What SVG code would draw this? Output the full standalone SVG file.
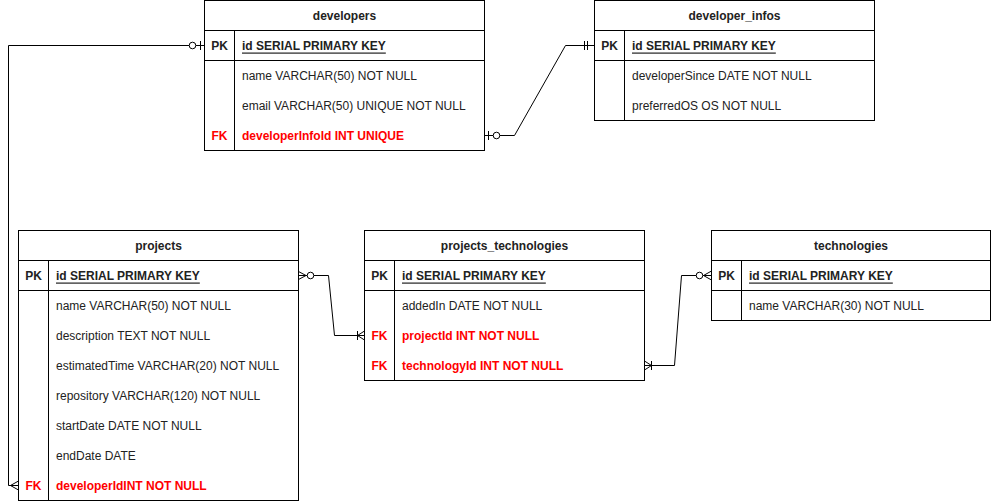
<svg xmlns="http://www.w3.org/2000/svg" width="992" height="502" viewBox="0 0 992 502">
<style>
.tb{fill:#fff;stroke:#000;stroke-width:1}
.ln{stroke:#000;stroke-width:1;fill:none}
text{font-family:"Liberation Sans",Arial,sans-serif;font-size:12px;fill:#222;dominant-baseline:central}
.h{font-weight:bold;text-anchor:middle}
.k{font-weight:bold;text-anchor:middle}
.pk{font-weight:bold;text-decoration:underline}
.fk{font-weight:bold;fill:#ff0000}
.fkk{font-weight:bold;text-anchor:middle;fill:#ff0000}
.cn{stroke:#000;stroke-width:1;fill:none}
.ci{stroke:#000;stroke-width:1;fill:#fff}
</style>
<g id="connectors">
  <!-- developers.id -> projects.developerId -->
  <g id="c1">
    <path class="cn" d="M204.5,45.5 H8.5 V485.5 H18.5"/>
    <path class="cn" d="M200.5,41 V50"/>
    <circle class="ci" cx="192.5" cy="45.5" r="3.3"/>
    <path class="cn" d="M18.5,481 L10.5,485.5 L18.5,490"/>
  </g>
  <!-- developers.developerInfoId -> developer_infos.id -->
  <g id="c2">
    <path class="cn" d="M484.5,135.5 H514.5 L565.5,45.5 H594.5"/>
    <path class="cn" d="M488.5,131 V140"/>
    <circle class="ci" cx="496.5" cy="135.5" r="3.3"/>
    <path class="cn" d="M584.5,41 V50 M587.5,41 V50"/>
  </g>
  <!-- projects.id -> projects_technologies.projectId -->
  <g id="c3">
    <path class="cn" d="M298.5,275.5 H328.5 L334.5,335.5 H364.5"/>
    <path class="cn" d="M298.5,271.5 L306,275.5 L298.5,279.5"/>
    <circle class="ci" cx="310.5" cy="275.5" r="3.3"/>
    <path class="cn" d="M357.5,331 V340"/>
    <path class="cn" d="M364.5,331 L357.5,335.5 L364.5,340"/>
  </g>
  <!-- projects_technologies.technologyId -> technologies.id -->
  <g id="c4">
    <path class="cn" d="M644.5,365.5 H674.5 L681.5,275.5 H711.5"/>
    <path class="cn" d="M644.5,361 L651.5,365.5 L644.5,370"/>
    <path class="cn" d="M651.5,361 V370"/>
    <circle class="ci" cx="699.5" cy="275.5" r="3.3"/>
    <path class="cn" d="M711.5,271 L703.5,275.5 L711.5,280"/>
  </g>
</g>

<g id="developers">
  <rect class="tb" x="204.5" y="0.5" width="280" height="150"/>
  <path class="ln" d="M204.5,30.5 H484.5 M204.5,60.5 H484.5 M234.5,30.5 V150.5"/>
  <text class="h" x="344.5" y="15.5">developers</text>
  <text class="k" x="219.5" y="45.5">PK</text>
  <text class="pk" x="242" y="45.5">id SERIAL PRIMARY KEY</text>
  <text x="242" y="75.5">name VARCHAR(50) NOT NULL</text>
  <text x="242" y="105.5">email VARCHAR(50) UNIQUE NOT NULL</text>
  <text class="fkk" x="219.5" y="135.5">FK</text>
  <text class="fk" x="242" y="135.5">developerInfoId INT UNIQUE</text>
</g>

<g id="developer_infos">
  <rect class="tb" x="594.5" y="0.5" width="280" height="120"/>
  <path class="ln" d="M594.5,30.5 H874.5 M594.5,60.5 H874.5 M624.5,30.5 V120.5"/>
  <text class="h" x="734.5" y="15.5">developer_infos</text>
  <text class="k" x="609.5" y="45.5">PK</text>
  <text class="pk" x="632" y="45.5">id SERIAL PRIMARY KEY</text>
  <text x="632" y="75.5">developerSince DATE NOT NULL</text>
  <text x="632" y="105.5">preferredOS OS NOT NULL</text>
</g>

<g id="projects">
  <rect class="tb" x="18.5" y="230.5" width="280" height="270"/>
  <path class="ln" d="M18.5,260.5 H298.5 M18.5,290.5 H298.5 M48.5,260.5 V500.5"/>
  <text class="h" x="158.5" y="245.5">projects</text>
  <text class="k" x="33.5" y="275.5">PK</text>
  <text class="pk" x="56" y="275.5">id SERIAL PRIMARY KEY</text>
  <text x="56" y="305.5">name VARCHAR(50) NOT NULL</text>
  <text x="56" y="335.5">description TEXT NOT NULL</text>
  <text x="56" y="365.5">estimatedTime VARCHAR(20) NOT NULL</text>
  <text x="56" y="395.5">repository VARCHAR(120) NOT NULL</text>
  <text x="56" y="425.5">startDate DATE NOT NULL</text>
  <text x="56" y="455.5">endDate DATE</text>
  <text class="fkk" x="33.5" y="485.5">FK</text>
  <text class="fk" x="56" y="485.5">developerIdINT NOT NULL</text>
</g>

<g id="projects_technologies">
  <rect class="tb" x="364.5" y="230.5" width="280" height="150"/>
  <path class="ln" d="M364.5,260.5 H644.5 M364.5,290.5 H644.5 M394.5,260.5 V380.5"/>
  <text class="h" x="504.5" y="245.5">projects_technologies</text>
  <text class="k" x="379.5" y="275.5">PK</text>
  <text class="pk" x="402" y="275.5">id SERIAL PRIMARY KEY</text>
  <text x="402" y="305.5">addedIn DATE NOT NULL</text>
  <text class="fkk" x="379.5" y="335.5">FK</text>
  <text class="fk" x="402" y="335.5">projectId INT NOT NULL</text>
  <text class="fkk" x="379.5" y="365.5">FK</text>
  <text class="fk" x="402" y="365.5">technologyId INT NOT NULL</text>
</g>

<g id="technologies">
  <rect class="tb" x="711.5" y="230.5" width="279" height="90"/>
  <path class="ln" d="M711.5,260.5 H990.5 M711.5,290.5 H990.5 M741.5,260.5 V320.5"/>
  <text class="h" x="851" y="245.5">technologies</text>
  <text class="k" x="726.5" y="275.5">PK</text>
  <text class="pk" x="749" y="275.5">id SERIAL PRIMARY KEY</text>
  <text x="749" y="305.5">name VARCHAR(30) NOT NULL</text>
</g>
</svg>
